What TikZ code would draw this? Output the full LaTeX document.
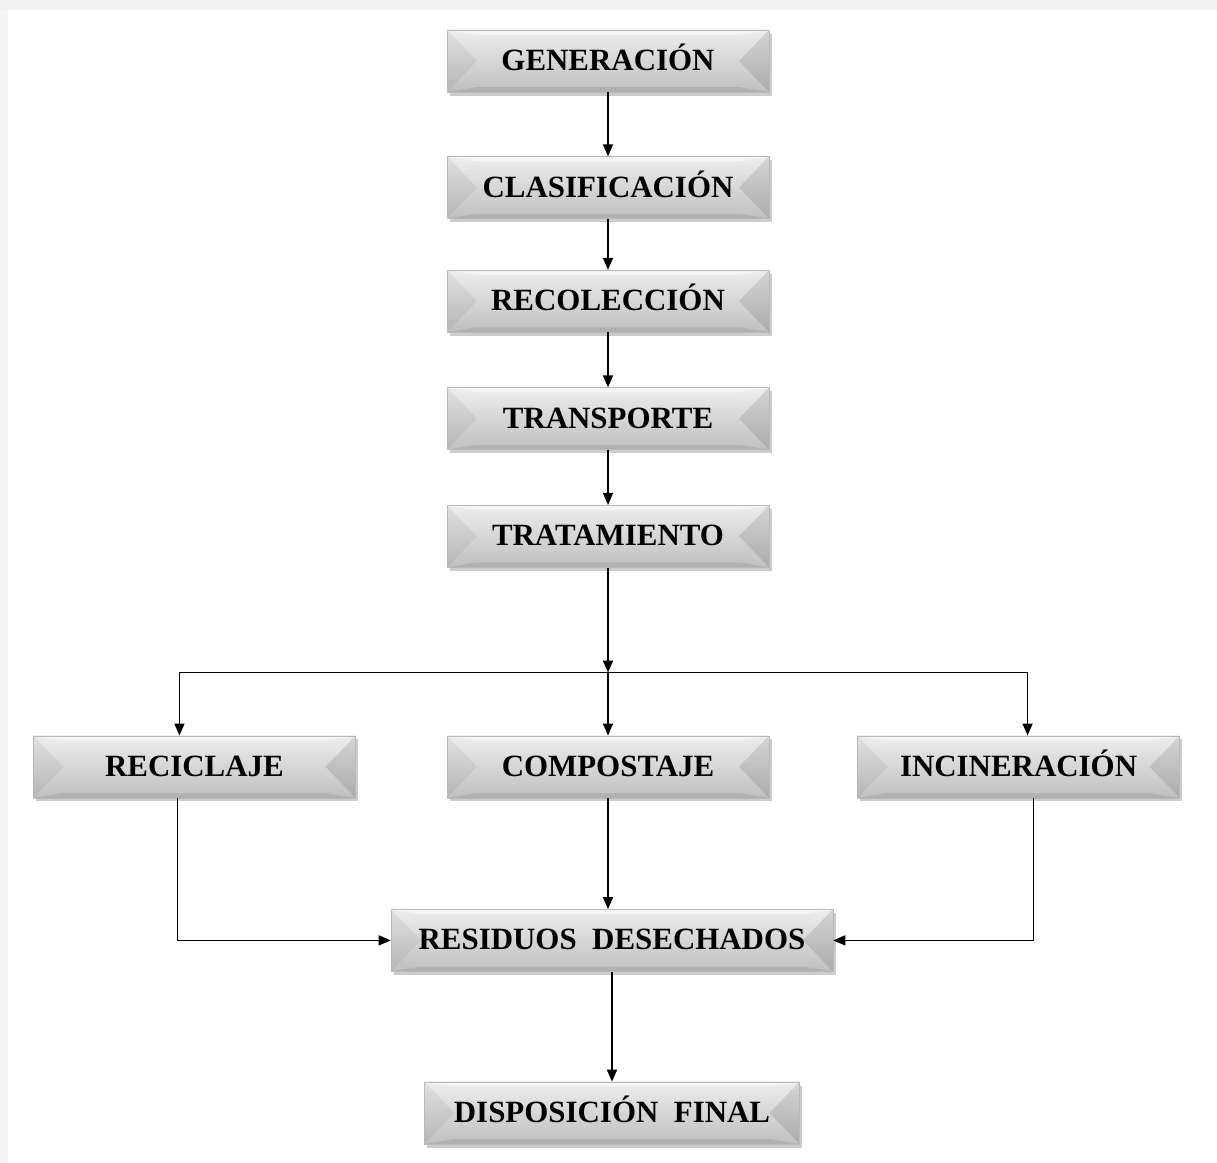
\documentclass[tikz,border=0pt]{standalone}
\usepackage{fontspec}
\setmainfont{Liberation Serif}
\usepackage{tikz}
\usetikzlibrary{positioning, arrows.meta, shadows}

\begin{document}
\begin{tikzpicture}[
    bevel/.style={rectangle, draw=gray!55, line width=0.4pt, minimum width=8.05cm, minimum height=1.55cm, inner sep=0pt,
        text height=13.5pt, text depth=0pt,
        top color=gray!14, bottom color=gray!50, align=center, font=\fontsize{22}{25}\selectfont\bfseries,
        drop shadow={shadow xshift=0.07cm, shadow yshift=-0.09cm, fill=black, opacity=0.2},
        path picture={
            \fill[white, opacity=0.5] (path picture bounding box.north west) -- (path picture bounding box.north east)
                -- ([xshift=-0.75cm, yshift=-0.12cm]path picture bounding box.north east)
                -- ([xshift=0.75cm, yshift=-0.12cm]path picture bounding box.north west) -- cycle;
            \fill[black, opacity=0.08] (path picture bounding box.south west) -- (path picture bounding box.south east)
                -- ([xshift=-0.75cm, yshift=0.12cm]path picture bounding box.south east)
                -- ([xshift=0.75cm, yshift=0.12cm]path picture bounding box.south west) -- cycle;
            \fill[black, opacity=0.05] (path picture bounding box.north west) -- ([xshift=0.75cm]path picture bounding box.west)
                -- (path picture bounding box.south west) -- cycle;
            \fill[black, opacity=0.10] (path picture bounding box.north east) -- ([xshift=-0.75cm]path picture bounding box.east)
                -- (path picture bounding box.south east) -- cycle;
        }},
    arrow/.style={-{Triangle[length=0.3cm, width=0.25cm]}, line width=1.1pt}
]

% page and frame
\useasboundingbox (0,0) rectangle (30.425,-29.075);
\fill[white] (0,0) rectangle (30.425,-29.075);
\fill[gray!10] (0,0) rectangle (30.425,-0.25);
\fill[gray!8] (0,-0.25) rectangle (0.2,-29.075);

% main chain
\node[bevel] (gen) at (15.2,-1.525) {GENERACIÓN};
\node[bevel, below=1.6cm of gen] (clas) {CLASIFICACIÓN};
\node[bevel, below=1.275cm of clas] (recol) {RECOLECCIÓN};
\node[bevel, below=1.375cm of recol] (transp) {TRANSPORTE};
\node[bevel, below=1.375cm of transp] (trat) {TRATAMIENTO};

\coordinate[below=2.625cm of trat] (split);

% the three treatments
\node[bevel, below=4.2cm of trat] (compost) {COMPOSTAJE};
\node[bevel, left=2.275cm of compost] (recic) {RECICLAJE};
\node[bevel, right=2.2cm of compost] (incin) {INCINERACIÓN};

\node[bevel, minimum width=11.05cm, below=2.775cm of compost, xshift=0.1cm] (resid) {RESIDUOS\ \ DESECHADOS};
\node[bevel, minimum width=9.375cm, below=2.75cm of resid] (disp) {DISPOSICIÓN\ \ FINAL};

\foreach \source/\dest in {gen/clas, clas/recol, recol/transp, transp/trat}
    \draw[arrow] (\source.south) -- (\dest.north);

\draw[arrow] (trat.south) -- (split);
\draw[line width=1.1pt] ([xshift=-0.375cm]recic.north |- split) -- ([xshift=0.225cm]incin.north |- split);
\draw[arrow] (split) -| ([xshift=-0.375cm]recic.north);
\draw[arrow] (split) -- (compost.north);
\draw[arrow] (split) -| ([xshift=0.225cm]incin.north);

\draw[arrow] ([xshift=-0.425cm]recic.south) |- (resid.west);
\draw[arrow] (compost.south) -- (compost.south |- resid.north);
\draw[arrow] ([xshift=0.375cm]incin.south) |- (resid.east);
\draw[arrow] (resid.south) -- (disp.north);

\end{tikzpicture}
\end{document}
